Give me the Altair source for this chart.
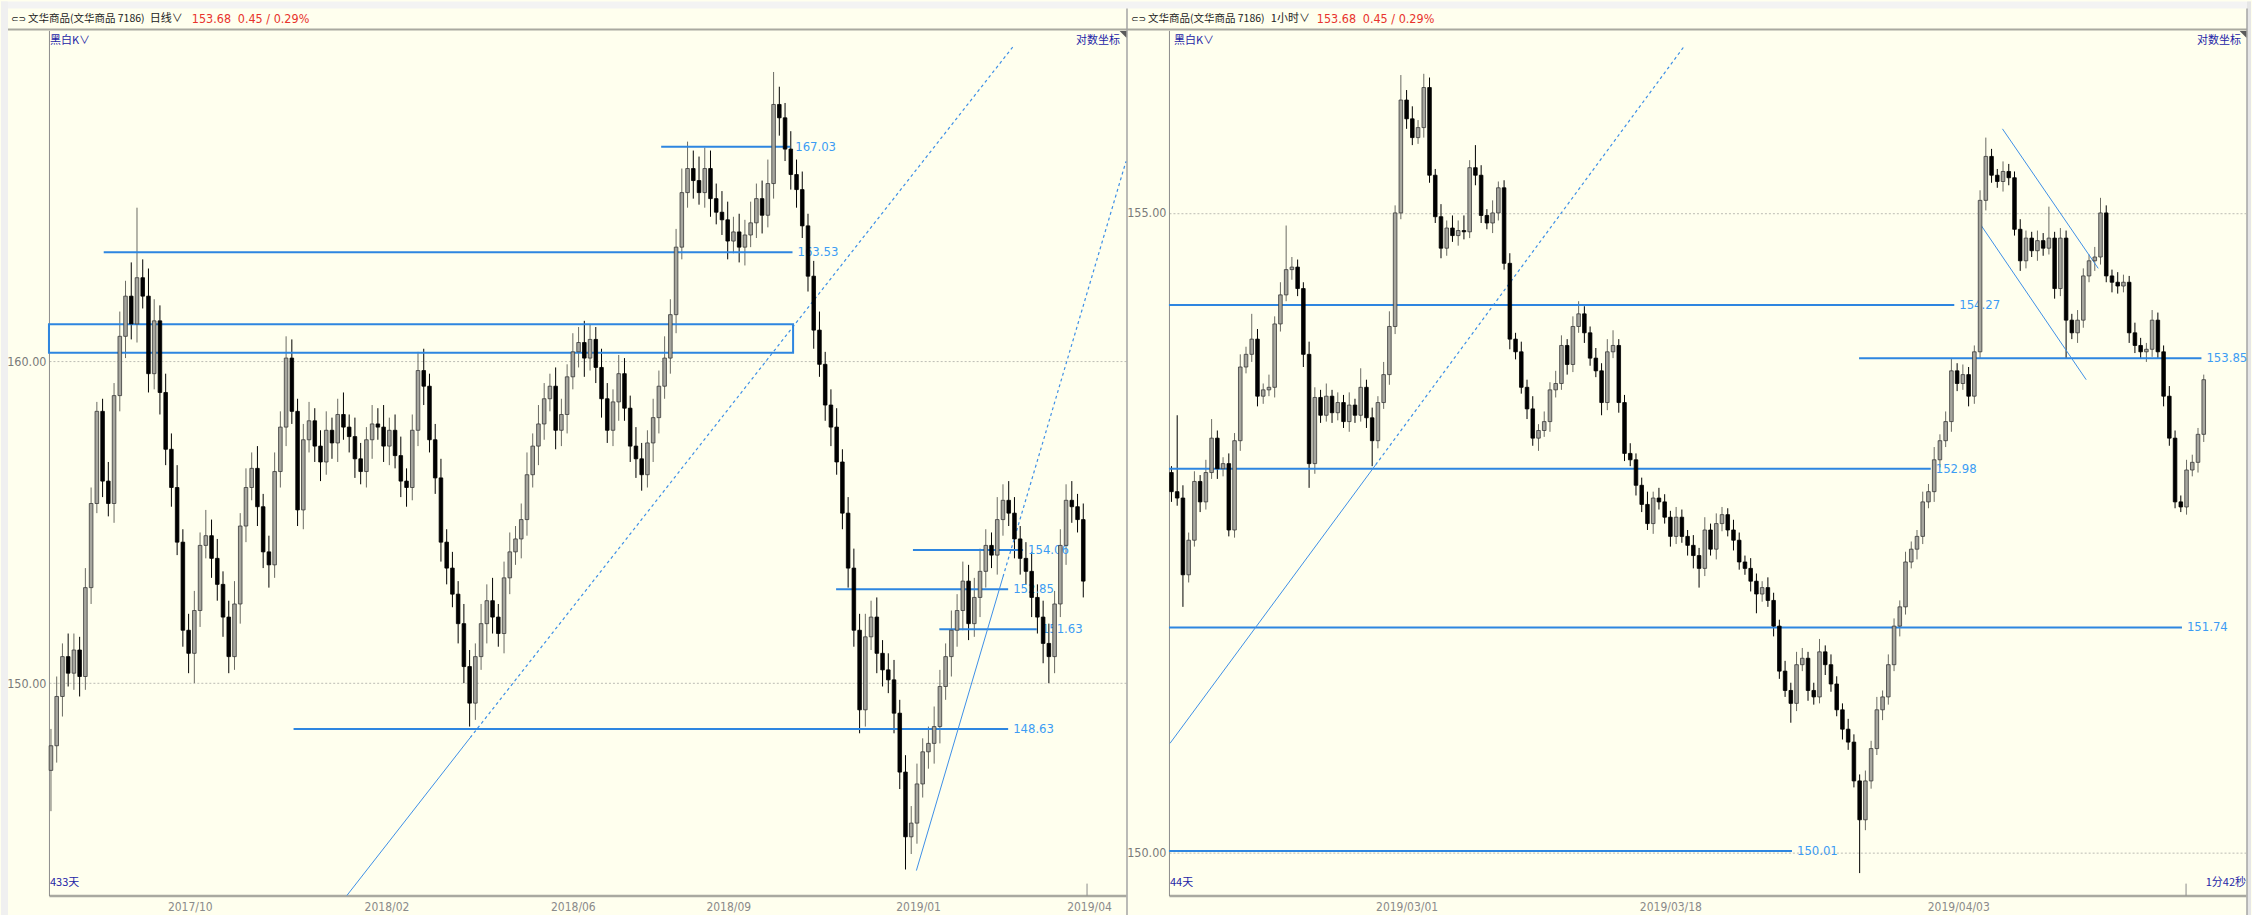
import json
import altair as alt
import pandas as pd

# ---------------- data ----------------
left_first_open = 147.4
left_close = [
    148.13, 149.6, 150.8, 150.3, 151.0, 150.2, 152.9, 155.5, 158.4, 156.2,
    155.5, 158.9, 160.8, 162.1, 161.2, 162.7, 162.1, 159.6, 161.3, 159.0,
    157.2, 156.0, 154.3, 151.6, 150.9, 152.2, 154.2, 154.5, 153.8, 153.0,
    152.0, 150.8, 152.4, 154.8, 156.0, 156.6, 155.4, 154.0, 153.6, 156.5,
    157.9, 160.1, 158.4, 155.3, 157.5, 158.1, 157.3, 156.8, 157.8, 157.4,
    158.3, 157.9, 157.6, 156.9, 156.5, 157.5, 158.0, 157.9, 157.3, 157.8,
    157.0, 156.2, 156.0, 157.8, 159.7, 159.2, 157.5, 156.3, 154.3, 153.5,
    152.7, 151.8, 150.5, 149.4, 150.8, 151.8, 152.5, 152.0, 151.5, 153.2,
    154.0, 154.4, 155.0, 156.4, 157.3, 158.0, 158.8, 159.2, 157.8, 158.3,
    159.5, 160.3, 160.6, 160.1, 160.7, 159.8, 158.8, 157.8, 158.7, 159.6,
    158.5, 157.3, 156.9, 156.4, 157.4, 158.2, 159.2, 160.1, 161.5, 163.7,
    165.5, 166.3, 165.9, 165.5, 166.3, 165.3, 164.85, 164.6, 163.9, 164.2,
    163.7, 164.1, 164.5, 165.3, 164.75, 165.8, 168.45, 168.0, 166.95, 166.1,
    165.6, 164.4, 162.75, 161.0, 159.9, 158.6, 157.9, 156.8, 155.2, 153.5,
    151.6, 149.2, 151.4, 152.0, 150.9, 150.4, 150.1, 149.1, 147.35, 145.45,
    145.85, 147.0, 147.95, 148.2, 148.7, 149.9, 150.8, 151.6, 152.2, 153.1,
    151.8, 152.6, 153.4, 154.2, 153.9, 155.0, 155.6, 155.2, 154.4, 153.8,
    153.4, 152.6, 152.0, 151.2, 150.8, 152.4, 154.2, 155.6, 155.4, 155.0, 153.1,
]
left_upper_wick = [
    0.5, 0.6, 0.4, 0.7, 0.5, 0.4, 0.6, 0.5, 0.3, 0.4,
    0.6, 0.4, 0.8, 0.5, 1.1, 2.3, 0.6, 0.9, 0.7, 0.5,
    0.6, 0.5, 0.7, 0.4, 0.5, 0.6, 0.4, 0.8, 0.5, 0.6,
    0.4, 0.5, 0.7, 0.4, 0.6, 0.5, 0.7, 0.4, 0.5, 0.6,
    0.5, 0.7, 0.6, 0.4, 0.5, 0.6, 0.4, 0.5, 0.6, 0.4,
    0.5, 0.7, 0.4, 0.6, 0.5, 0.4, 0.6, 0.5, 0.7, 0.4,
    0.5, 0.6, 0.4, 0.5, 0.6, 0.7, 0.4, 0.5, 0.6, 0.4,
    0.5, 0.4, 0.6, 0.5, 0.4, 0.6, 0.5, 0.7, 0.4, 0.5,
    0.6, 0.4, 0.5, 0.7, 0.4, 0.6, 0.5, 0.4, 0.6, 0.5,
    0.4, 0.6, 0.5, 0.7, 0.5, 0.4, 0.6, 0.5, 0.4, 0.6,
    0.5, 0.4, 0.6, 0.5, 0.4, 0.6, 0.5, 0.7, 0.5, 0.6,
    0.8, 0.9, 0.6, 0.8, 0.7, 0.6, 0.5, 0.7, 0.6, 0.5,
    0.6, 0.5, 0.7, 0.5, 0.6, 0.8, 1.1, 0.6, 0.5, 0.6,
    0.5, 0.6, 0.4, 0.5, 0.6, 0.4, 0.5, 0.6, 0.4, 0.5,
    0.6, 0.5, 0.7, 0.5, 0.6, 0.4, 0.5, 0.6, 0.4, 0.5,
    0.5, 0.6, 0.4, 0.5, 0.6, 0.5, 0.4, 0.6, 0.5, 0.6,
    0.5, 0.6, 0.7, 0.5, 0.4, 0.7, 0.5, 0.6, 0.5, 0.4,
    0.5, 0.6, 0.4, 0.5, 0.6, 0.4, 0.5, 0.5, 0.6, 0.4, 0.5,
]
left_lower_wick = [
    1.2, 0.5, 0.6, 0.4, 0.5, 0.6, 0.4, 0.5, 0.3, 0.5,
    0.4, 0.6, 0.5, 0.7, 0.5, 0.6, 0.4, 0.6, 0.5, 0.7,
    0.5, 0.6, 0.4, 0.5, 0.6, 0.9, 0.5, 0.4, 0.6, 0.5,
    0.6, 0.5, 0.4, 0.6, 0.5, 0.4, 0.6, 0.5, 0.7, 0.4,
    0.5, 0.6, 0.4, 0.5, 0.6, 0.4, 0.5, 0.6, 0.4, 0.5,
    0.6, 0.4, 0.5, 0.6, 0.4, 0.5, 0.6, 0.4, 0.5, 0.6,
    0.4, 0.5, 0.6, 0.4, 0.5, 0.6, 0.4, 0.5, 0.6, 0.5,
    0.4, 0.6, 0.5, 0.7, 0.5, 0.4, 0.6, 0.5, 0.4, 0.6,
    0.5, 0.4, 0.6, 0.5, 0.4, 0.6, 0.5, 0.4, 0.6, 0.5,
    0.6, 0.4, 0.5, 0.6, 0.4, 0.5, 0.6, 0.4, 0.5, 0.6,
    0.4, 0.5, 0.6, 0.5, 0.4, 0.6, 0.5, 0.4, 0.5, 0.6,
    0.4, 0.5, 0.6, 0.4, 0.5, 0.6, 0.4, 0.5, 0.6, 0.4,
    0.5, 0.6, 0.4, 0.5, 0.6, 0.4, 0.5, 0.6, 0.4, 0.5,
    0.6, 0.4, 0.5, 0.6, 0.4, 0.5, 0.6, 0.4, 0.5, 0.6,
    0.5, 0.7, 0.5, 0.4, 0.6, 0.5, 0.4, 0.6, 0.5, 0.95,
    0.5, 0.6, 0.4, 0.5, 0.6, 0.5, 0.4, 0.6, 0.5, 0.6,
    0.5, 0.4, 0.6, 0.5, 0.4, 0.6, 0.5, 0.4, 0.6, 0.5,
    0.4, 0.6, 0.5, 0.6, 0.8, 0.5, 0.4, 0.6, 0.5, 0.4, 0.5,
]

right_first_open = 152.95
right_close = [
    152.80, 152.75, 152.15, 152.42, 152.88, 152.72, 152.95, 153.22, 152.98, 153.02,
    152.50, 153.20, 153.78, 153.88, 154.00, 153.55, 153.60, 153.62, 154.12, 154.35,
    154.55, 154.57, 154.40, 153.88, 153.02, 153.54, 153.40, 153.55, 153.42, 153.50,
    153.35, 153.48, 153.40, 153.62, 153.38, 153.20, 153.50, 153.72, 154.10, 155.00,
    155.90, 155.75, 155.60, 155.68, 156.00, 155.30, 154.97, 154.72, 154.88, 154.82,
    154.86, 154.85, 155.36, 155.30, 154.98, 154.92, 155.00, 155.20, 154.60, 154.00,
    153.90, 153.62, 153.45, 153.22, 153.28, 153.35, 153.60, 153.65, 153.95, 153.80,
    154.10, 154.20, 154.05, 153.85, 153.75, 153.50, 153.90, 153.95, 153.50, 153.10,
    153.05, 152.85, 152.70, 152.55, 152.75, 152.72, 152.60, 152.45, 152.60, 152.45,
    152.38, 152.30, 152.20, 152.50, 152.35, 152.55, 152.62, 152.50, 152.42, 152.25,
    152.20, 152.10, 152.00, 152.05, 151.95, 151.75, 151.40, 151.25, 151.15, 151.45,
    151.50, 151.25, 151.20, 151.55, 151.45, 151.30, 151.10, 150.95, 150.85, 150.55,
    150.25, 150.55, 150.80, 151.10, 151.20, 151.45, 151.75, 151.90, 152.25, 152.35,
    152.45, 152.72, 152.80, 153.05, 153.20, 153.35, 153.75, 153.65, 153.72, 153.55,
    153.90, 155.10, 155.45, 155.30, 155.25, 155.33, 155.28, 154.87, 154.62, 154.80,
    154.70, 154.78, 154.72, 154.80, 154.40, 154.80, 154.15, 154.05, 154.15, 154.50,
    154.62, 154.65, 155.00, 154.50, 154.45, 154.42, 154.45, 154.05, 153.95, 153.90,
    153.92, 154.15, 153.90, 153.55, 153.22, 152.72, 152.68, 152.97, 153.03, 153.25, 153.68,
]
right_upper_wick = [
    .05, .60, .10, .06, .08, .05, .10, .15, .06, .05,
    .08, .06, .10, .06, .20, .08, .05, .10, .06, .10,
    .35, .08, .06, .05, .10, .08, .06, .10, .05, .08,
    .06, .10, .05, .15, .06, .08, .05, .10, .12, .06,
    .20, .08, .10, .06, .11, .08, .05, .10, .06, .10,
    .08, .12, .06, .18, .08, .05, .10, .05, .06, .08,
    .05, .08, .06, .10, .05, .08, .06, .10, .08, .05,
    .08, .10, .06, .05, .08, .06, .10, .12, .05, .06,
    .08, .05, .06, .10, .05, .08, .06, .05, .08, .06,
    .05, .08, .06, .10, .05, .08, .06, .05, .08, .06,
    .05, .08, .06, .05, .08, .06, .05, .08, .06, .10,
    .08, .05, .06, .10, .05, .08, .06, .05, .08, .06,
    .05, .08, .06, .10, .05, .08, .06, .05, .08, .06,
    .05, .08, .06, .10, .05, .08, .10, .06, .08, .06,
    .05, .08, .15, .06, .05, .08, .06, .05, .08, .06,
    .05, .08, .06, .25, .05, .08, .06, .05, .08, .06,
    .05, .08, .12, .06, .05, .08, .06, .05, .08, .06,
    .05, .08, .06, .05, .08, .06, .05, .08, .06, .05, .04,
]
right_lower_wick = [
    .08, .06, .25, .06, .05, .08, .06, .05, .08, .06,
    .05, .06, .08, .05, .06, .08, .06, .05, .08, .06,
    .05, .08, .06, .10, .19, .08, .06, .05, .08, .06,
    .05, .08, .06, .05, .08, .20, .06, .05, .08, .06,
    .05, .08, .06, .05, .08, .06, .05, .08, .06, .05,
    .08, .06, .05, .08, .06, .05, .08, .06, .05, .08,
    .06, .05, .08, .06, .10, .05, .08, .06, .05, .08,
    .06, .05, .08, .06, .05, .10, .06, .05, .08, .06,
    .05, .08, .06, .05, .08, .06, .05, .08, .06, .05,
    .08, .10, .15, .06, .05, .08, .06, .05, .08, .06,
    .05, .08, .15, .06, .05, .08, .06, .05, .15, .06,
    .05, .08, .06, .05, .08, .06, .05, .08, .06, .05,
    .41, .08, .06, .05, .08, .06, .05, .08, .06, .05,
    .08, .06, .05, .08, .06, .05, .08, .06, .05, .08,
    .06, .05, .08, .06, .05, .08, .06, .05, .08, .06,
    .05, .08, .06, .05, .08, .06, .30, .05, .08, .06,
    .05, .08, .06, .05, .08, .06, .05, .08, .06, .05,
    .08, .06, .05, .08, .06, .05, .04, .06, .05, .08, .06,
]

# axis ticks (bar index where each date label sits)
left_tick_index = [24.2, 58.5, 91.0, 118.1, 151.2, 181.0]
left_tick_label = ["2017/10", "2018/02", "2018/06", "2018/09", "2019/01", "2019/04"]
right_tick_index = [41.0, 87.0, 137.2]
right_tick_label = ["2019/03/01", "2019/03/18", "2019/04/03"]

# horizontal price levels
left_level_price = [167.03, 163.53, 154.06, 152.85, 151.63, 148.63]
left_level_from = [106.4, 9.2, 150.3, 136.9, 154.9, 42.3]
left_level_to = [128.9, 129.3, 169.5, 166.9, 171.9, 166.9]
left_box = {"x1": -0.35, "x2": 129.4, "p1": 160.27, "p2": 161.19}

right_level_price = [154.27, 153.85, 152.98, 151.74, 150.01]
right_level_from = [-0.435, 119.9, -0.435, -0.435, -0.435]
right_level_to = [136.5, 179.6, 132.4, 176.2, 108.2]

# trend lines (bar index, price)
left_solid = [(51.6, 143.75, 73.1, 148.37), (150.9, 144.47, 166.0, 153.23)]
left_dashed = [(73.1, 148.37, 167.9, 170.45), (166.0, 153.23, 187.45, 166.54)]
right_solid = [(-0.26, 150.84, 35.6, 153.01), (144.9, 155.67, 161.6, 154.56),
               (140.9, 154.92, 159.5, 153.68)]
right_dashed = [(35.6, 153.01, 89.4, 156.33)]

title_name = "文华商品(文华商品 7186)"
left_period = "日线∨"
right_period = "1小时∨"
last_price = "153.68"
change_text = "0.45 / 0.29%"
style_text = "黑白K∨"
scale_text = "对数坐标"
left_count = "433天"
right_count = "44天"
timer_text = "1分42秒"

# ---------------- styling ----------------
NUM_FONT = "Liberation Sans Narrow, DejaVu Sans Condensed, Liberation Sans, sans-serif"
CJK_FONT = "Noto Sans CJK SC, sans-serif"
LINE = "#2e86e0"
LABEL = "#3c9cf4"
TREND = "#3d8fe6"
BG = "#ffffee"
W, H = 1078, 866


def ohlc(close, upw, loww, first_open):
    n = min(len(close), len(upw), len(loww))
    rows = []
    prev = first_open
    for i in range(n):
        o, c = prev, close[i]
        rows.append({"i": i, "o": o, "c": c,
                     "h": max(o, c) + upw[i], "l": min(o, c) - loww[i],
                     "up": bool(c >= o)})
        prev = c
    return pd.DataFrame(rows)


def one():
    return pd.DataFrame({"k": [0]})


def txt(s, x, y, color, size, font, align="left"):
    return alt.Chart(pd.DataFrame({"t": [s]})).mark_text(
        align=align, baseline="middle", color=color, fontSize=size, font=font
    ).encode(x=alt.value(x), y=alt.value(y), text="t:N")


def box(x1, x2, y1, y2, color):
    return alt.Chart(one()).mark_rect(color=color).encode(
        x=alt.value(x1), x2=alt.value(x2), y=alt.value(y1), y2=alt.value(y2))


def vrule(x, y1, y2, color, w=1.0):
    return alt.Chart(one()).mark_rule(color=color, strokeWidth=w).encode(
        x=alt.value(x), y=alt.value(y1), y2=alt.value(y2))


def corner(x, y):
    return alt.Chart(one()).mark_point(
        shape="M -1 -1 L 1 -1 L 1 1 Z", filled=True, color="#5a5a5a", size=45, opacity=1
    ).encode(x=alt.value(x), y=alt.value(y))


def segs(lst):
    return pd.DataFrame([{"x1": a, "p1": b, "x2": c, "p2": d} for a, b, c, d in lst])


def panel(df, xdom, ydom, yvals, tick_idx, tick_lab, lv_price, lv_from, lv_to,
          solid, dashed, rect, decor_back, decor_front):
    xs = alt.Scale(domain=xdom, nice=False, zero=False, padding=0)
    ys = alt.Scale(type="log", domain=ydom, nice=False, zero=False, padding=0)
    expr = json.dumps(tick_lab) + "[indexof(" + json.dumps(tick_idx) + ", datum.value)]"
    xaxis = alt.Axis(values=tick_idx, labelExpr=expr, title=None, grid=False, ticks=False,
                     domainColor="#a9a9a0", domainWidth=2.5, labelColor="#8a8a8a",
                     labelFont=NUM_FONT, labelFontSize=12, labelPadding=6,
                     labelOverlap=False, labelFlush=False)
    yaxis = alt.Axis(values=yvals, format=".2f", title=None, grid=True, gridColor="#bcbcb4",
                     gridDash=[2, 2], gridWidth=1, ticks=False, domainColor="#8c8c8c",
                     domainWidth=1, labelColor="#7a7a7a", labelFont=NUM_FONT,
                     labelFontSize=12.5, labelPadding=3)

    def X(f):
        return alt.X(f, scale=xs, axis=xaxis)

    def Y(f):
        return alt.Y(f, scale=ys, axis=yaxis)

    levels = pd.DataFrame({"p": lv_price, "x1": lv_from, "x2": lv_to,
                           "lab": [f"{v:.2f}" for v in lv_price]})

    wick = alt.Chart(df).mark_rule(strokeWidth=1).encode(
        x=X("i:Q"), y=Y("l:Q"), y2="h:Q",
        color=alt.condition("datum.up", alt.value("#6a6a62"), alt.value("#000000")),
    )
    body = alt.Chart(df).mark_bar(size=3.6, strokeWidth=0.8).encode(
        x=X("i:Q"), y=Y("o:Q"), y2="c:Q",
        fill=alt.condition("datum.up", alt.value("#a6a69e"), alt.value("#000000")),
        stroke=alt.condition("datum.up", alt.value("#3a3a3a"), alt.value("#000000")),
    )
    lev_rule = alt.Chart(levels).mark_rule(color=LINE, strokeWidth=2).encode(
        x=X("x1:Q"), x2="x2:Q", y=Y("p:Q"))
    lev_text = alt.Chart(levels).mark_text(
        align="left", baseline="middle", dx=5, color=LABEL, font=NUM_FONT, fontSize=13
    ).encode(x=X("x2:Q"), y=Y("p:Q"), text="lab:N")
    sol = alt.Chart(segs(solid)).mark_rule(color=TREND, strokeWidth=1).encode(
        x=X("x1:Q"), x2="x2:Q", y=Y("p1:Q"), y2="p2:Q")
    layers = [wick] + list(decor_back) + [lev_rule, lev_text, sol]
    if dashed:
        das = alt.Chart(segs(dashed)).mark_rule(color=TREND, strokeWidth=1.2,
                                                strokeDash=[3, 3]).encode(
            x=X("x1:Q"), x2="x2:Q", y=Y("p1:Q"), y2="p2:Q")
        layers.append(das)
    if rect is not None:
        r = alt.Chart(pd.DataFrame([rect])).mark_rect(
            fill="transparent", stroke=LINE, strokeWidth=2).encode(
            x=X("x1:Q"), x2="x2:Q", y=Y("p1:Q"), y2="p2:Q")
        layers.append(r)
    layers.append(body)
    layers += list(decor_front)
    return alt.layer(*layers).properties(width=W, height=H)


left_df = ohlc(left_close, left_upper_wick, left_lower_wick, left_first_open)
right_df = ohlc(right_close, right_upper_wick, right_lower_wick, right_first_open)

RED = "#e8332c"
DARK = "#222222"
BLUE_TXT = "#2424a6"

left_back = [
    box(-48, 2204, -29, -22, "#f3f3f3"),
    box(-48, -41, -29, 886, "#f0f0f0"),
    box(2200, 2204, -29, 886, "#e6e6e6"),
    box(-41, 2200, -2, 0, "#a9a9a0"),
    vrule(1079, -22, 886, "#a4a4a4", 1.5),
    vrule(2200, -22, 886, "#a4a4a4", 1.5),
    vrule(1039, 854, 866, "#8a8a8a", 1),
]
left_front = [
    txt("⊂⊃", -38, -11.5, DARK, 9, "DejaVu Sans"),
    txt(title_name, -21, -11.5, DARK, 10.5, CJK_FONT),
    txt(left_period, 101, -11.5, DARK, 11, CJK_FONT),
    txt(last_price, 143, -11.5, RED, 12.5, NUM_FONT),
    txt(change_text, 189, -11.5, RED, 12.5, NUM_FONT),
    txt(style_text, 1, 10.5, BLUE_TXT, 11, CJK_FONT),
    txt(scale_text, 1072, 10.5, BLUE_TXT, 11, CJK_FONT, align="right"),
    txt(left_count, 1, 853, BLUE_TXT, 11, CJK_FONT),
    corner(1075, 4),
]
right_back = [vrule(1018, 854, 866, "#8a8a8a", 1)]
right_front = [
    txt("⊂⊃", -38, -11.5, DARK, 9, "DejaVu Sans"),
    txt(title_name, -21, -11.5, DARK, 10.5, CJK_FONT),
    txt(right_period, 102, -11.5, DARK, 11, CJK_FONT),
    txt(last_price, 148, -11.5, RED, 12.5, NUM_FONT),
    txt(change_text, 194, -11.5, RED, 12.5, NUM_FONT),
    txt(style_text, 5, 10.5, BLUE_TXT, 11, CJK_FONT),
    txt(scale_text, 1073, 10.5, BLUE_TXT, 11, CJK_FONT, align="right"),
    txt(right_count, 1, 853, BLUE_TXT, 11, CJK_FONT),
    txt(timer_text, 1078, 853, BLUE_TXT, 11, CJK_FONT, align="right"),
    corner(1075, 4),
]

left = panel(left_df, [-0.35, 187.45], [143.746, 170.97], [150, 160],
             left_tick_index, left_tick_label, left_level_price, left_level_from,
             left_level_to, left_solid, left_dashed, left_box, left_back, left_front)
right = panel(right_df, [-0.435, 187.37], [149.667, 156.458], [150, 155],
              right_tick_index, right_tick_label, right_level_price, right_level_from,
              right_level_to, right_solid, right_dashed, None, right_back, right_front)

chart = alt.hconcat(left, right, spacing=43, bounds="flush").properties(
    padding=0, background=BG
).configure_view(stroke="transparent")

chart.save("out.html", embed_options={"renderer": "svg", "actions": False})
